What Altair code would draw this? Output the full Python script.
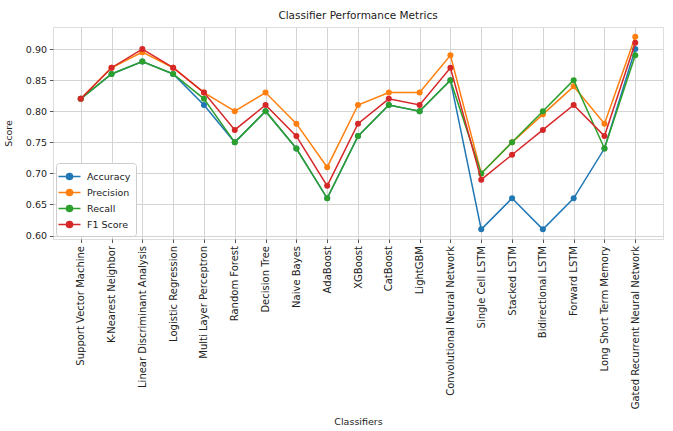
import altair as alt
import pandas as pd

# Classifier names in plotting order
classifiers = [
    "Support Vector Machine", "K-Nearest Neighbor", "Linear Discriminant Analysis",
    "Logistic Regression", "Multi Layer Perceptron", "Random Forest", "Decision Tree",
    "Naive Bayes", "AdaBoost", "XGBoost", "CatBoost", "LightGBM",
    "Convolutional Neural Network", "Single Cell LSTM", "Stacked LSTM",
    "Bidirectional LSTM", "Forward LSTM", "Long Short Term Memory",
    "Gated Recurrent Neural Network",
]

accuracy = [0.82, 0.86, 0.88, 0.86, 0.81, 0.75, 0.80, 0.74, 0.66, 0.76, 0.81, 0.80,
            0.85, 0.61, 0.66, 0.61, 0.66, 0.74, 0.90]
precision = [0.82, 0.87, 0.895, 0.87, 0.83, 0.80, 0.83, 0.78, 0.71, 0.81, 0.83, 0.83,
             0.89, 0.70, 0.75, 0.795, 0.84, 0.78, 0.92]
recall = [0.82, 0.86, 0.88, 0.86, 0.82, 0.75, 0.80, 0.74, 0.66, 0.76, 0.81, 0.80,
          0.85, 0.70, 0.75, 0.80, 0.85, 0.74, 0.89]
f1_score = [0.82, 0.87, 0.90, 0.87, 0.83, 0.77, 0.81, 0.76, 0.68, 0.78, 0.82, 0.81,
            0.87, 0.69, 0.73, 0.77, 0.81, 0.76, 0.91]

metrics = ["Accuracy", "Precision", "Recall", "F1 Score"]
colors = ["#1f77b4", "#ff7f0e", "#2ca02c", "#d62728"]
series = [accuracy, precision, recall, f1_score]

rows = []
for name, vals in zip(metrics, series):
    for clf, v in zip(classifiers, vals):
        rows.append({"Classifier": clf, "Metric": name, "Score": v})
df = pd.DataFrame(rows)

FONT = "DejaVu Sans"
FS = 10
# legend glyph: a short line with a dot in the middle (wider than tall)
legend_symbol = "M-1.5,0H1.5M0.42,0A0.42,0.42,0,1,1,-0.42,0A0.42,0.42,0,1,1,0.42,0Z"

x_enc = alt.X(
    "Classifier:N",
    sort=classifiers,
    scale=alt.Scale(type="point", padding=0.9),
    axis=alt.Axis(
        title="Classifiers", labelAngle=270, labelFontSize=FS, labelFont=FONT,
        labelColor="#222", titleFont=FONT, titleFontSize=9.5, titleFontWeight="normal",
        titleColor="#222", titleY=185, titleBaseline="alphabetic",
        grid=True, gridColor="#d4d4d4", tickColor="#555", tickSize=3.5,
        domain=False, labelPadding=3,
    ),
)
y_enc = alt.Y(
    "Score:Q",
    scale=alt.Scale(domain=[0.5945, 0.9355], nice=False, zero=False),
    axis=alt.Axis(
        title="Score", values=[0.60, 0.65, 0.70, 0.75, 0.80, 0.85, 0.90], format=".2f",
        labelFontSize=9.5, labelFont=FONT, labelColor="#222", titleFont=FONT,
        titleFontSize=9.5, titleFontWeight="normal", titleColor="#222", titleX=-40,
        grid=True, gridColor="#d4d4d4", tickColor="#555", tickSize=3.5, domain=False,
        labelPadding=3,
    ),
)
color_enc = alt.Color(
    "Metric:N",
    sort=metrics,
    scale=alt.Scale(domain=metrics, range=colors),
    legend=alt.Legend(
        title=None, orient="bottom-left", offset=3, symbolType=legend_symbol,
        symbolSize=215, symbolStrokeWidth=1.5, labelFont=FONT, labelFontSize=9.5,
        labelColor="#222", rowPadding=1, labelOffset=9, fillColor="white",
        strokeColor="#cccccc", padding=5, cornerRadius=3,
    ),
)

layers = []
for name in metrics:
    base = alt.Chart(df).transform_filter(alt.datum.Metric == name)
    layers.append(
        base.mark_line(strokeWidth=1.5).encode(x=x_enc, y=y_enc, color=color_enc)
    )
    layers.append(
        base.mark_point(filled=True, size=36, opacity=1).encode(
            x=x_enc, y=y_enc, color=color_enc
        )
    )

chart = (
    alt.layer(*layers)
    .properties(
        width=610,
        height=212,
        autosize=alt.AutoSizeParams(type="none"),
        padding={"left": 53, "top": 27, "right": 10, "bottom": 192},
        title=alt.Title(
            "Classifier Performance Metrics", font=FONT, fontSize=10.5,
            fontWeight="normal", color="#222", offset=6,
        ),
    )
    .configure_view(stroke="#555", strokeWidth=1)
    .configure(background="white")
)

chart.save("out.html", embed_options={"renderer": "svg", "actions": False})
